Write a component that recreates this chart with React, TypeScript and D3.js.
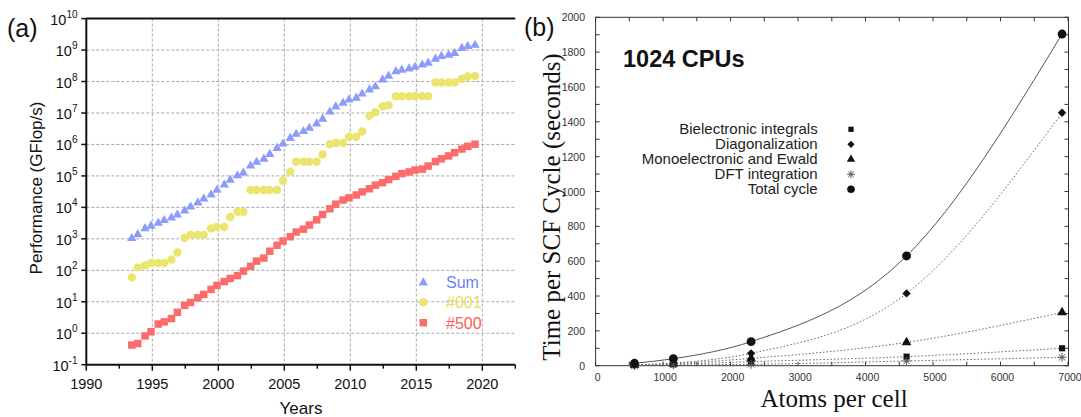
import React from 'react';
import * as d3 from 'd3';

// ---------- Panel (a) data: TOP500 performance (GFlop/s) ----------
const listDates = [
  1993.45, 1993.9, 1994.45, 1994.9, 1995.45, 1995.9, 1996.45, 1996.9, 1997.45, 1997.9,
  1998.45, 1998.9, 1999.45, 1999.9, 2000.45, 2000.9, 2001.45, 2001.9, 2002.45, 2002.9,
  2003.45, 2003.9, 2004.45, 2004.9, 2005.45, 2005.9, 2006.45, 2006.9, 2007.45, 2007.9,
  2008.45, 2008.9, 2009.45, 2009.9, 2010.45, 2010.9, 2011.45, 2011.9, 2012.45, 2012.9,
  2013.45, 2013.9, 2014.45, 2014.9, 2015.45, 2015.9, 2016.45, 2016.9, 2017.45, 2017.9,
  2018.45, 2018.9, 2019.45,
];
const sumPerf = [
  1120, 1480, 2290, 2750, 3390, 4170, 5010, 6310, 8320, 11200,
  15100, 20000, 26900, 38000, 56000, 79400, 110000, 135000, 224000, 295000,
  372000, 525000, 813000, 1120000, 1700000, 2290000, 2820000, 3550000, 4900000, 6920000,
  1.17e7, 1.7e7, 2.24e7, 2.82e7, 3.24e7, 4.37e7, 5.89e7, 7.42e7, 1.23e8, 1.62e8,
  2.24e8, 2.51e8, 2.75e8, 3.09e8, 3.63e8, 4.17e8, 5.62e8, 6.76e8, 7.41e8, 8.51e8,
  1.23e9, 1.41e9, 1.55e9,
];
const top1Perf = [
  59.7, 124, 143.4, 170, 170, 170, 220.4, 368.2, 1068, 1338,
  1338, 1338, 2121, 2379, 2379, 4938, 7226, 7226, 35860, 35860,
  35860, 35860, 35860, 70720, 136800, 280600, 280600, 280600, 280600, 478200,
  1026000, 1105000, 1105000, 1759000, 1759000, 2566000, 8162000, 10510000, 16320000, 17590000,
  33860000, 33860000, 33860000, 33860000, 33860000, 33860000, 93010000, 93010000, 93010000, 93010000,
  122300000, 143500000, 148600000,
];
const top500Perf = [
  0.422, 0.472, 0.822, 1.114, 1.96, 2.29, 2.93, 4.62, 7.67, 9.51,
  13.4, 17.1, 24.7, 33.1, 43.8, 55.1, 67.8, 94.3, 134.3, 195.8,
  245.1, 403.4, 624, 850.6, 1166, 1646, 2026, 2737, 4005, 5929,
  9000, 12640, 17090, 20050, 24670, 31120, 39090, 50940, 60820, 76500,
  96620, 117800, 133700, 153400, 164700, 206300, 285900, 349300, 432200, 548300,
  715600, 874800, 1021000,
];
const yearTicks = [1990, 1995, 2000, 2005, 2010, 2015, 2020];
const yearMinorTicks = [1992.5, 1997.5, 2002.5, 2007.5, 2012.5, 2017.5, 2022.5];
const exponentTicks = [-1, 0, 1, 2, 3, 4, 5, 6, 7, 8, 9, 10];
const legendA = ['Sum', '#001', '#500'];

// ---------- Panel (b) data: CRYSTAL timing ----------
const atomsPerCell = [576, 1152, 2304, 4608, 6912];
const bielectronic = [3, 8, 23, 52, 100];
const diagonalization = [4, 15, 71, 415, 1452];
const monoelectronic = [4, 12, 42, 134, 306];
const dftIntegration = [1, 4, 8, 27, 48];
const totalCycle = [14, 40, 138, 630, 1904];
const atomTicks = [0, 1000, 2000, 3000, 4000, 5000, 6000, 7000];
const timeTicks = [0, 200, 400, 600, 800, 1000, 1200, 1400, 1600, 1800, 2000];
const legendB = ['Bielectronic integrals', 'Diagonalization', 'Monoelectronic and Ewald', 'DFT integration', 'Total cycle'];

const SANS = '"Liberation Sans", Arial, Helvetica, sans-serif';
const SERIF = '"Liberation Serif", "Times New Roman", serif';

const triPath = d3.symbol().type(d3.symbolTriangle).size(38)()!;
const circPath = d3.symbol().type(d3.symbolCircle).size(56)()!;
const sqPath = d3.symbol().type(d3.symbolSquare).size(56)()!;

function asterisk(r: number) {
  const d = r * 0.707;
  return `M${-r},0H${r}M0,${-r}V${r}M${-d},${-d}L${d},${d}M${-d},${d}L${d},${-d}`;
}
function diamond(r: number) {
  return `M0,${-r}L${r},0L0,${r}L${-r},0Z`;
}

function symbolB(kind: number, scale: number) {
  if (kind === 1) return diamond(4 * scale);
  if (kind === 3) return asterisk(4.3 * scale);
  const types = [d3.symbolSquare, null, d3.symbolTriangle, null, d3.symbolCircle];
  const sizes = [34, 0, 38, 0, 56];
  return d3.symbol().type(types[kind]!).size(sizes[kind] * scale * scale)()!;
}

export default function App() {
  // Panel (a) scales
  const xA = d3.scaleLinear().domain([1990, 2022.5]).range([86.3, 515.3]);
  const yA = d3.scaleLog().domain([0.1, 1e10]).range([364.7, 18.6]);
  const gridH = exponentTicks.filter((e) => e > -1 && e < 10);
  const gridV = yearTicks.filter((y) => y > 1990);

  const colSum = '#8d9bfd';
  const colTop1 = '#ebe46e';
  const colTop500 = '#fd6b6b';

  // Panel (b) scales
  const xB = d3.scaleLinear().domain([0, 7000]).range([595.6, 1068]);
  const yB = d3.scaleLinear().domain([0, 2000]).range([365.7, 17.3]);
  const xMinor = d3.range(0, 7001, 500);
  const yMinor = d3.range(0, 2001, 100);
  const seriesB = [bielectronic, diagonalization, monoelectronic, dftIntegration, totalCycle];
  const lineB = d3
    .line<number>()
    .x((_, i) => xB(atomsPerCell[i]))
    .y((v) => yB(v))
    .curve(d3.curveMonotoneX);

  return (
    <svg width={1081} height={417} style={{ position: 'absolute', left: 0, top: 0, background: '#fff' }}>
      {/* ================= Panel (a) ================= */}
      <text x={7} y={37} fontFamily={SANS} fontSize={25} fill="#111">(a)</text>
      {gridH.map((e) => (
        <line key={'gh' + e} x1={xA(1990)} x2={xA(2022.5)} y1={yA(Math.pow(10, e))} y2={yA(Math.pow(10, e))}
          stroke="#a8a8a8" strokeWidth={1} strokeDasharray="3,2" />
      ))}
      {gridV.map((y) => (
        <line key={'gv' + y} x1={xA(y)} x2={xA(y)} y1={yA(1e10)} y2={yA(0.1)}
          stroke="#a8a8a8" strokeWidth={1} strokeDasharray="3,2" />
      ))}
      {/* frame */}
      <line x1={xA(1990)} x2={xA(2022.5)} y1={yA(1e10)} y2={yA(1e10)} stroke="#111" strokeWidth={2} />
      <line x1={xA(1990)} x2={xA(2022.5)} y1={yA(0.1)} y2={yA(0.1)} stroke="#111" strokeWidth={2} />
      <line x1={xA(1990)} x2={xA(1990)} y1={yA(1e10)} y2={yA(0.1) + 1} stroke="#111" strokeWidth={2} />
      {/* x ticks */}
      {yearTicks.map((y) => (
        <g key={'xt' + y}>
          <line x1={xA(y)} x2={xA(y)} y1={yA(0.1)} y2={yA(0.1) + 6} stroke="#111" strokeWidth={1.5} />
          <text x={xA(y)} y={388.5} textAnchor="middle" fontFamily={SANS} fontSize={14.5} fill="#111">{y}</text>
        </g>
      ))}
      {yearMinorTicks.map((y) => (
        <line key={'xm' + y} x1={xA(y)} x2={xA(y)} y1={yA(0.1)} y2={yA(0.1) + 4} stroke="#111" strokeWidth={1.5} />
      ))}
      {/* y ticks */}
      {exponentTicks.map((e) => (
        <g key={'yt' + e}>
          <line x1={xA(1990) - 5} x2={xA(1990)} y1={yA(Math.pow(10, e))} y2={yA(Math.pow(10, e))} stroke="#111" strokeWidth={1.5} />
          <text x={77.5} y={yA(Math.pow(10, e)) + 6} textAnchor="end" fontFamily={SANS} fontSize={14.5} fill="#111">
            10<tspan fontSize={10} dy={-7}>{e}</tspan>
          </text>
        </g>
      ))}
      <text x={301} y={414} textAnchor="middle" fontFamily={SANS} fontSize={17} fill="#111">Years</text>
      <text transform={`translate(42,188) rotate(-90)`} textAnchor="middle" fontFamily={SANS} fontSize={17} fill="#111">
        Performance (GFlop/s)
      </text>
      {/* data */}
      {top500Perf.map((v, i) => (
        <path key={'s5' + i} d={sqPath} transform={`translate(${xA(listDates[i])},${yA(v)})`} fill={colTop500} />
      ))}
      {top1Perf.map((v, i) => (
        <path key={'s1' + i} d={circPath} transform={`translate(${xA(listDates[i])},${yA(v)})`} fill={colTop1} />
      ))}
      {sumPerf.map((v, i) => (
        <path key={'ss' + i} d={triPath} transform={`translate(${xA(listDates[i])},${yA(v) + 1})`} fill={colSum} />
      ))}
      {/* legend */}
      {legendA.map((label, i) => {
        const cy = 281.7 + i * 20.5;
        const sym = [triPath, circPath, sqPath][i];
        const fill = [colSum, colTop1, colTop500][i];
        const tfill = ['#6f7ffc', '#e6dd5c', '#fd5c5c'][i];
        return (
          <g key={'la' + i}>
            <path d={sym} transform={`translate(423.3,${cy + (i === 0 ? 1 : 0)})`} fill={fill} />
            <text x={446} y={cy + 6} fontFamily={SANS} fontSize={16} fill={tfill}>{label}</text>
          </g>
        );
      })}

      {/* ================= Panel (b) ================= */}
      <text x={524} y={36} fontFamily={SANS} fontSize={25} fill="#111">(b)</text>
      <rect x={xB(0)} y={yB(2000)} width={xB(7000) - xB(0) + 0.5} height={yB(0) - yB(2000)} fill="none" stroke="#333" strokeWidth={1} />
      {xMinor.map((v) => (
        <g key={'bx' + v}>
          <line x1={xB(v)} x2={xB(v)} y1={yB(0)} y2={yB(0) - 4} stroke="#333" />
          <line x1={xB(v)} x2={xB(v)} y1={yB(2000)} y2={yB(2000) + 4} stroke="#333" />
        </g>
      ))}
      {yMinor.map((v) => (
        <g key={'by' + v}>
          <line x1={xB(0)} x2={xB(0) + 4} y1={yB(v)} y2={yB(v)} stroke="#333" />
          <line x1={xB(7000) + 0.5} x2={xB(7000) - 3.5} y1={yB(v)} y2={yB(v)} stroke="#333" />
        </g>
      ))}
      {atomTicks.map((v) => (
        <text key={'bxl' + v} x={xB(v) + 2} y={381} textAnchor="middle" fontFamily={SANS} fontSize={10.5} fill="#333">{v}</text>
      ))}
      {timeTicks.map((v) => (
        <text key={'byl' + v} x={585} y={yB(v) + 4} textAnchor="end" fontFamily={SANS} fontSize={10.5} fill="#333">{v}</text>
      ))}
      <text x={834} y={407} textAnchor="middle" fontFamily={SERIF} fontSize={25} fill="#111">Atoms per cell</text>
      <text transform={`translate(560,207) rotate(-90)`} textAnchor="middle" fontFamily={SERIF} fontSize={25} fill="#111">
        Time per SCF Cycle (seconds)
      </text>
      <text x={623} y={66.5} fontFamily={SANS} fontSize={23.5} fontWeight="bold" fill="#111">1024 CPUs</text>
      {/* curves */}
      {seriesB.map((s, k) => (
        <path key={'bl' + k} d={lineB(s)!} fill="none"
          stroke={k === 4 ? '#555' : '#666'} strokeWidth={1}
          strokeDasharray={k === 4 ? undefined : '1.5,2'} />
      ))}
      {/* points */}
      {seriesB.map((s, k) =>
        s.map((v, i) => (
          <path key={`bp${k}-${i}`} d={symbolB(k, 1.05)} transform={`translate(${xB(atomsPerCell[i])},${yB(v)})`}
            fill={k === 3 ? 'none' : '#111'} stroke={k === 3 ? '#555' : 'none'} strokeWidth={1} />
        ))
      )}
      {/* legend */}
      {legendB.map((label, k) => {
        const cy = 129.3 + k * 15;
        return (
          <g key={'lb' + k}>
            <text x={817.7} y={cy + 5} textAnchor="end" fontFamily={SANS} fontSize={15} fill="#222">{label}</text>
            <path d={symbolB(k, 0.9)} transform={`translate(851,${cy})`}
              fill={k === 3 ? 'none' : '#111'} stroke={k === 3 ? '#555' : 'none'} strokeWidth={1} />
          </g>
        );
      })}
    </svg>
  );
}
